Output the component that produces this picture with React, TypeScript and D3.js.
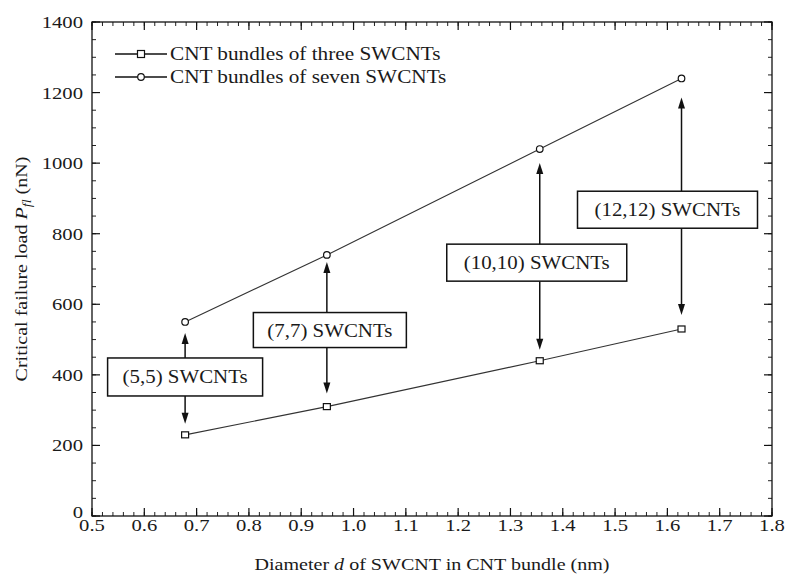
import React from "react";
import * as d3 from "d3";

const diameters = [0.678, 0.949, 1.356, 1.627];
const threeSWCNTs = [230, 310, 440, 530];
const sevenSWCNTs = [550, 740, 1040, 1240];
const xTickValues = d3.range(0, 14).map((i) => +(0.5 + i * 0.1).toFixed(1));
const xMinorValues = d3.range(0, 66).map((i) => +(0.5 + i * 0.02).toFixed(2));
const yTickValues = d3.range(0, 8).map((i) => i * 200);
const yMinorValues = d3.range(0, 29).map((i) => i * 50);
const legendLabels = ["CNT bundles of three SWCNTs", "CNT bundles of seven SWCNTs"];
const annotationLabels = ["(5,5) SWCNTs", "(7,7) SWCNTs", "(10,10) SWCNTs", "(12,12) SWCNTs"];
const annotationBoxValues = [394, 527, 718, 868];

// layout for annotations (pixels)
const annLayout = [
  { w: 155, h: 38, dx: 0, gapTop: 11, gapBottom: 11 },
  { w: 153, h: 35, dx: 3, gapTop: 7, gapBottom: 13 },
  { w: 180, h: 37, dx: -3, gapTop: 14, gapBottom: 11 },
  { w: 180, h: 37, dx: -14, gapTop: 19, gapBottom: 14 },
];

const FONT = "'Liberation Serif', 'Times New Roman', serif";
const SX = 1.18;

const W = 788;
const H = 580;
const left = 92;
const right = 772;
const top = 22;
const bottom = 516;

function SText({ x, y, size, anchor = "start", sx = SX, children, rotate = 0 }: any) {
  return (
    <text
      transform={`translate(${x},${y}) rotate(${rotate}) scale(${sx},1)`}
      fontFamily={FONT}
      fontSize={size}
      textAnchor={anchor}
      fill="#1a1a1a"
    >
      {children}
    </text>
  );
}

export default function App() {
  const x = d3.scaleLinear().domain([0.5, 1.8]).range([left, right]);
  const y = d3.scaleLinear().domain([0, 1400]).range([bottom, top]);
  const line = d3
    .line<[number, number]>()
    .x((d) => x(d[0]))
    .y((d) => y(d[1]));
  const threePts = diameters.map((d, i) => [d, threeSWCNTs[i]] as [number, number]);
  const sevenPts = diameters.map((d, i) => [d, sevenSWCNTs[i]] as [number, number]);

  const arrowHead = (px: number, tip: number, dir: number) => {
    const base = tip - dir * 11;
    return `M${px},${tip}L${px - 3.5},${base}L${px + 3.5},${base}Z`;
  };

  return (
    <svg
      width={W}
      height={H}
      style={{ position: "absolute", left: 0, top: 0, background: "#fff" }}
    >
      {xMinorValues.map((v, i) => (
        <g key={"xm" + i}>
          <line x1={x(v)} x2={x(v)} y1={bottom} y2={bottom - 4} stroke="#222" strokeWidth={1} />
          <line x1={x(v)} x2={x(v)} y1={top} y2={top + 4} stroke="#222" strokeWidth={1} />
        </g>
      ))}
      {xTickValues.map((v, i) => (
        <g key={"xt" + i}>
          <line x1={x(v)} x2={x(v)} y1={bottom} y2={bottom - 8} stroke="#111" strokeWidth={1.2} />
          <line x1={x(v)} x2={x(v)} y1={top} y2={top + 8} stroke="#111" strokeWidth={1.2} />
          <SText x={x(v)} y={531} size={17.5} anchor="middle">
            {v.toFixed(1)}
          </SText>
        </g>
      ))}
      {yMinorValues.map((v, i) => (
        <g key={"ym" + i}>
          <line x1={left} x2={left + 4} y1={y(v)} y2={y(v)} stroke="#222" strokeWidth={1} />
          <line x1={right} x2={right - 4} y1={y(v)} y2={y(v)} stroke="#222" strokeWidth={1} />
        </g>
      ))}
      {yTickValues.map((v, i) => (
        <g key={"yt" + i}>
          <line x1={left} x2={left + 8} y1={y(v)} y2={y(v)} stroke="#111" strokeWidth={1.2} />
          <line x1={right} x2={right - 8} y1={y(v)} y2={y(v)} stroke="#111" strokeWidth={1.2} />
          <SText x={83} y={y(v) + (v === 0 ? 2 : 6)} size={17.5} anchor="end">
            {String(v)}
          </SText>
        </g>
      ))}
      <rect x={left} y={top} width={right - left} height={bottom - top} fill="none" stroke="#111" strokeWidth={1.3} />

      <path d={line(threePts) || ""} fill="none" stroke="#333" strokeWidth={1.1} />
      <path d={line(sevenPts) || ""} fill="none" stroke="#333" strokeWidth={1.1} />
      {threePts.map((p, i) => (
        <rect key={"s" + i} x={x(p[0]) - 3.5} y={y(p[1]) - 3} width={7} height={6} fill="#fff" stroke="#111" strokeWidth={1.2} />
      ))}
      {sevenPts.map((p, i) => (
        <circle key={"c" + i} cx={x(p[0])} cy={y(p[1])} r={3.3} fill="#fff" stroke="#111" strokeWidth={1.2} />
      ))}

      {annotationLabels.map((lab, i) => {
        const L = annLayout[i];
        const px = x(diameters[i]);
        const cy = y(annotationBoxValues[i]);
        const bx = px + L.dx - L.w / 2;
        const by = cy - L.h / 2;
        const tipTop = y(sevenSWCNTs[i]) + L.gapTop;
        const tipBottom = y(threeSWCNTs[i]) - L.gapBottom;
        return (
          <g key={"a" + i}>
            <line x1={px} x2={px} y1={by} y2={tipTop + 8} stroke="#111" strokeWidth={1.5} />
            <path d={arrowHead(px, tipTop, -1)} fill="#111" />
            <line x1={px} x2={px} y1={by + L.h} y2={tipBottom - 8} stroke="#111" strokeWidth={1.5} />
            <path d={arrowHead(px, tipBottom, 1)} fill="#111" />
            <rect x={bx} y={by} width={L.w} height={L.h} fill="#fff" stroke="#111" strokeWidth={1.5} />
            <SText x={bx + L.w / 2} y={cy + 6.5} size={19} anchor="middle" sx={1.1}>
              {lab}
            </SText>
          </g>
        );
      })}

      {legendLabels.map((lab, i) => {
        const ly = 54 + i * 23;
        return (
          <g key={"l" + i}>
            <line x1={115} x2={167} y1={ly} y2={ly} stroke="#111" strokeWidth={1.3} />
            {i === 0 ? (
              <rect x={137.5} y={ly - 3.5} width={7} height={7} fill="#fff" stroke="#111" strokeWidth={1.2} />
            ) : (
              <circle cx={141} cy={ly} r={3.3} fill="#fff" stroke="#111" strokeWidth={1.2} />
            )}
            <SText x={170} y={ly + 6} size={18}>
              {lab}
            </SText>
          </g>
        );
      })}

      <SText x={432} y={570} size={17} anchor="middle">
        Diameter <tspan fontStyle="italic">d</tspan> of SWCNT in CNT bundle (nm)
      </SText>
      <SText x={27} y={269} size={17} anchor="middle" rotate={-90}>
        Critical failure load <tspan fontStyle="italic">P</tspan>
        <tspan fontStyle="italic" fontSize={12} dy={4}>fl</tspan>
        <tspan dy={-4}> (nN)</tspan>
      </SText>
    </svg>
  );
}
